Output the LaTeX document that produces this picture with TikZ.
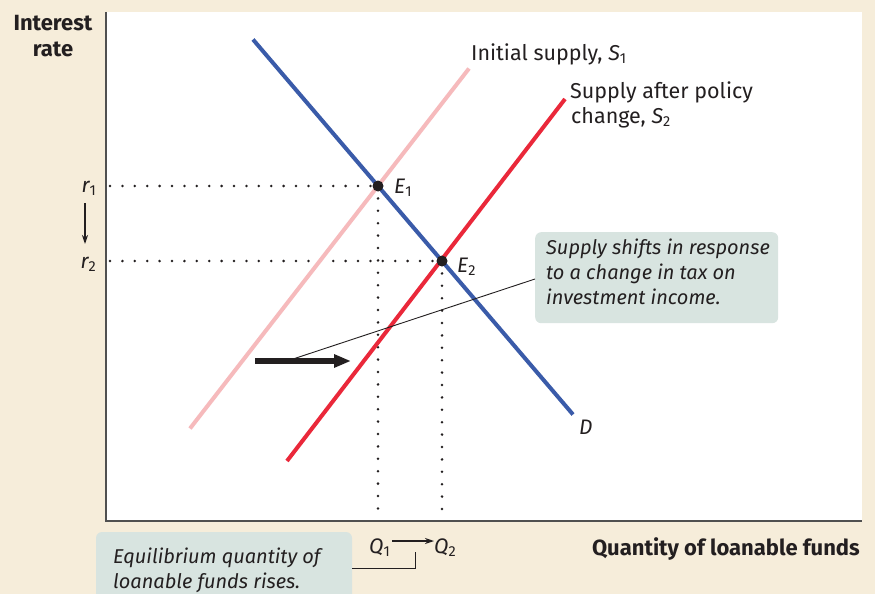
\documentclass[tikz,border=0pt]{standalone}
\usepackage{fontspec}
\setmainfont{Fira Sans}
\usetikzlibrary{arrows.meta}
\definecolor{bg}{RGB}{246,237,218}
\definecolor{callout}{RGB}{216,228,224}
\definecolor{dblue}{RGB}{58,91,169}
\definecolor{sred}{RGB}{234,40,58}
\definecolor{spink}{RGB}{246,186,188}
\definecolor{axisgray}{RGB}{80,80,80}
\definecolor{ink}{RGB}{35,31,32}
\newcommand{\lowsub}[1]{\raisebox{-0.32ex}{\upshape\fontsize{14.5}{14.5}\selectfont #1}}
\tikzset{
  curve/.style={line width=4pt},
  dots/.style={ink, line width=2.8pt, line cap=round, dash pattern=on 0pt off 12.4pt},
  eqpt/.style={circle, fill=ink, inner sep=0pt, minimum size=11pt},
  lbl/.style={font=\fontsize{21}{23}\selectfont\itshape, inner sep=0pt, text=ink},
  curvelbl/.style={font=\fontsize{21.5}{24}\selectfont, inner sep=0pt, text=ink},
  note/.style={font=\fontsize{20}{25}\selectfont\itshape, align=left, inner sep=0pt, text=ink},
  box/.style={fill=callout, rounded corners=6pt, draw=none},
  axtitle/.style={font=\fontsize{22}{26}\selectfont\bfseries, inner sep=0pt, text=ink},
}
\begin{document}
\begin{tikzpicture}[x=1pt,y=-1pt]
\useasboundingbox (0,0) rectangle (875,594);
\fill[bg] (0,0) rectangle (875,594);
\fill[white] (106,12) rectangle (862,521);
% axes
\draw[axisgray, line width=1.5pt] (106,12) -- (106,521) -- (862,521);
% coordinates
\coordinate (dtop) at (253,39.5);
\coordinate (dbot) at (573,414.5);
\coordinate (s1bot) at (190,428.5);
\coordinate (s1top) at (469,68.5);
\coordinate (s2bot) at (287,461);
\coordinate (s2top) at (565,99);
\coordinate (E1c) at (378,186);
\coordinate (E2c) at (442,261);
\coordinate (r1l) at (110,186);
\coordinate (r2l) at (110,261);
\coordinate (q1b) at (378,519);
\coordinate (q2b) at (442,519);
% dotted guides
\draw[dots] (r1l) -- (E1c);
\draw[dots] (r2l) -- (E2c);
\draw[dots] (E1c) -- (q1b);
\draw[dots] (E2c) -- (q2b);
% curves
\draw[curve, spink] (s1bot) -- (s1top);
\draw[curve, sred] (s2bot) -- (s2top);
\draw[curve, dblue] (dtop) -- (dbot);
% equilibrium points
\node[eqpt] (E1) at (E1c) {};
\node[eqpt] (E2) at (E2c) {};
\node[lbl, anchor=base west] (E1l) at (394,193) {E\lowsub{1}};
\node[lbl, anchor=base west] (E2l) at (457,272) {E\lowsub{2}};
% labels of curves
\node[curvelbl, anchor=base west] (s1l) at (471,60) {Initial supply, \textit{S}\lowsub{1}};
\node[curvelbl, anchor=base west] (s2la) at (570,99) {Supply after policy};
\node[curvelbl, anchor=base west] (s2lb) at (571,123) {change, \textit{S}\lowsub{2}};
\node[lbl, anchor=base west] (dl) at (579,434) {D};
% r labels
\node[lbl, anchor=base east] (r1) at (96,192) {r\lowsub{1}};
\node[lbl, anchor=base east] (r2) at (96,268) {r\lowsub{2}};
\draw[ink, -{Stealth[length=9pt,width=6pt]}, line width=1.2pt] (85,203) -- (85,244);
% axis titles
\node[axtitle, align=center, anchor=north] (ytitle) at (53,15) {Interest\\rate};
\node[axtitle, anchor=base east] (xtitle) at (860,555) {Quantity of loanable funds};
% callout top
\node[box, minimum width=243pt, minimum height=91pt, anchor=north west] (cbox) at (535,232) {};
\node[note, anchor=north west] (ctext) at (546,239) {Supply shifts in response\\to a change in tax on\\investment income.};
% big arrow
\coordinate (bastart) at (255,361);
\coordinate (baend) at (351,361);
\draw[ink, line width=5.3pt, -{Triangle[length=17pt,width=12.5pt]}] (bastart) -- (baend);
\coordinate (thinend) at (290,360);
\draw[ink, line width=0.9pt] (cbox.west |- 0,279) -- (thinend);
% Q labels
\node[lbl, anchor=base west] (q1) at (369,553) {Q\lowsub{1}};
\node[lbl, anchor=base west] (q2) at (434,553) {Q\lowsub{2}};
\draw[ink, line width=1.2pt, -{Stealth[length=9pt,width=6pt]}] (q1.east |- 0,541) ++(2pt,0) -- (q2.west |- 0,541);
% bottom callout
\fill[callout, rounded corners=6pt] (96,532) rectangle (352,600);
\node[note, anchor=north west] (btext) at (113,548) {Equilibrium quantity of\\loanable funds rises.};
\coordinate (brk) at (415,552);
\draw[ink, line width=1pt] (352,568) -| (brk);
\end{tikzpicture}
\end{document}
